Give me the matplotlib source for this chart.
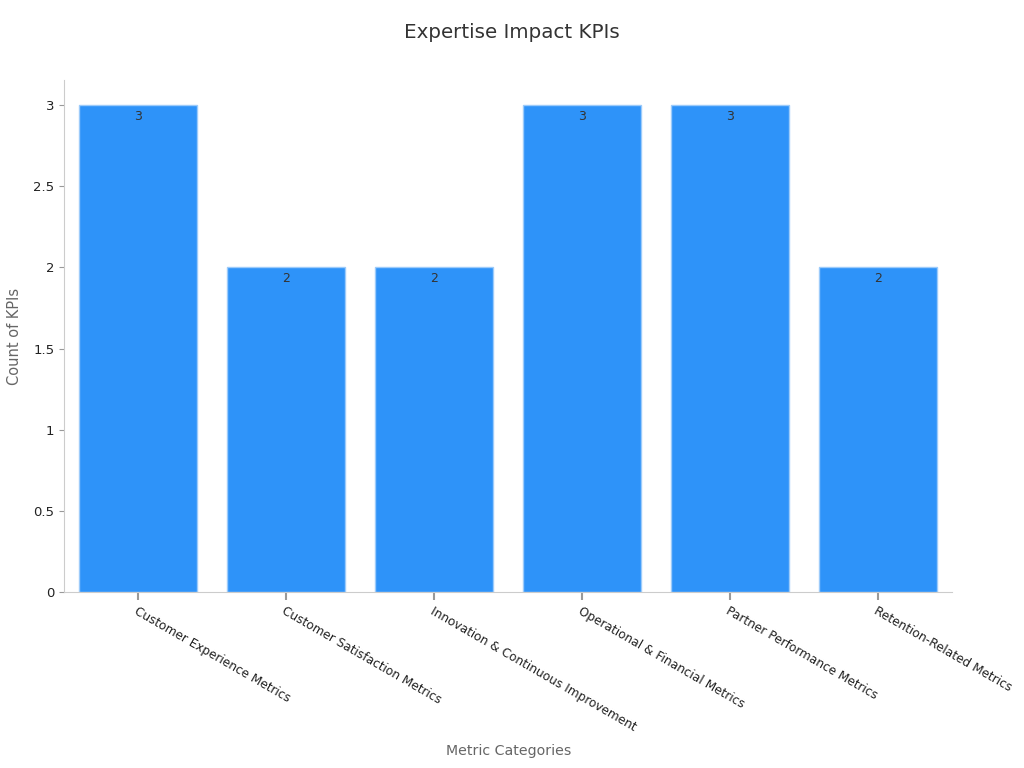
import matplotlib
matplotlib.use("Agg")
import matplotlib.pyplot as plt

categories = ["Customer Experience Metrics", "Customer Satisfaction Metrics",
              "Innovation & Continuous Improvement", "Operational & Financial Metrics",
              "Partner Performance Metrics", "Retention-Related Metrics"]
counts = [3, 2, 2, 3, 3, 2]

plt.rcParams['font.family'] = ['DejaVu Sans']
fig = plt.figure(figsize=(10.24, 7.68), dpi=100)
ax = fig.add_axes([0.0625, 0.2292, 0.8672, 0.6666])

x = list(range(len(categories)))
bars = ax.bar(x, counts, width=0.795, color="#2E93F9", edgecolor="#9CCBFA", linewidth=1)
for xi, v in zip(x, counts):
    ax.text(xi, v - 0.03, str(v), ha="center", va="top", fontsize=9, color="#333333")

ax.set_xlim(-0.5, 5.5)
ax.set_ylim(0, 3.155)
ax.set_yticks([0, 0.5, 1, 1.5, 2, 2.5, 3])
ax.set_yticklabels(["0", "0.5", "1", "1.5", "2", "2.5", "3"])
ax.set_xticks(x)
ax.set_xticklabels(categories, rotation=-30, ha="left", rotation_mode="anchor", fontsize=8.7, color="#222222")
ax.tick_params(axis="y", labelsize=9.5, colors="#222222")
ax.tick_params(axis="both", color="#999999")
ax.tick_params(axis="x", length=6, width=1.5, pad=3)
for s in ["top", "right"]:
    ax.spines[s].set_visible(False)
for s in ["left", "bottom"]:
    ax.spines[s].set_color("#cccccc")

ax.set_xlabel("Metric Categories", fontsize=10.2, color="#666666")
ax.xaxis.set_label_coords((509 - 64) / 888, -(751 - 592) / 512)
ax.xaxis.label.set_va("center")
ax.set_ylabel("Count of KPIs", fontsize=10.5, color="#666666", labelpad=8)
fig.suptitle("Expertise Impact KPIs", fontsize=14.3, color="#333333", y=0.97)

fig.savefig("out.png", dpi=100)
